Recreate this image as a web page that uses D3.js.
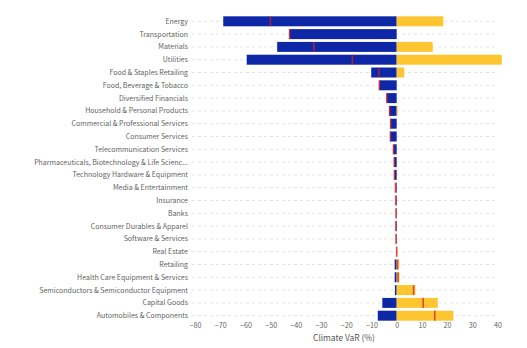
<!DOCTYPE html>
<html>
<head>
<meta charset="utf-8">
<script src="https://cdn.jsdelivr.net/npm/d3@7"></script>
<style>
  body { margin: 0; background: #fff; }
  svg { font-family: "Noto Sans CJK KR", "Noto Sans", sans-serif; }
</style>
</head>
<body>
<script>
const w = 527;
const h = 348;

const sectors = [
  "Energy", "Transportation", "Materials", "Utilities",
  "Food & Staples Retailing", "Food, Beverage & Tobacco", "Diversified Financials",
  "Household & Personal Products", "Commercial & Professional Services", "Consumer Services",
  "Telecommunication Services", "Pharmaceuticals, Biotechnology & Life Scienc...",
  "Technology Hardware & Equipment", "Media & Entertainment", "Insurance", "Banks",
  "Consumer Durables & Apparel", "Software & Services", "Real Estate", "Retailing",
  "Health Care Equipment & Services", "Semiconductors & Semiconductor Equipment",
  "Capital Goods", "Automobiles & Components"
];

// downside (policy risk) and upside (technology opportunity), in %
const downside = [-68.8, -42.6, -47.4, -59.5, -10.1, -6.9, -4.0, -3.0, -2.5, -2.6,
  -1.3, -1.0, -0.9, -0.4, -0.3, -0.2, -0.3, -0.2, -0.1, -0.8, -0.8, -0.7, -5.7, -7.5];
const upside = [18.5, 0, 14.3, 41.7, 3.0, 0, 0, 0.4, 0, 0,
  0, 0, 0, 0, 0, 0, 0, 0, 0.2, 1.0, 1.1, 7.4, 16.3, 22.5];
// aggregated climate VaR
const netVaR = [-50.0, -42.4, -32.8, -17.5, -7.0, -6.8, -3.8, -2.7, -2.3, -2.4,
  -1.2, -0.9, -0.8, -0.4, -0.3, -0.2, -0.3, -0.2, 0.1, 0.4, 0.6, 6.8, 10.6, 15.2];

const xTicks = [-80, -70, -60, -50, -40, -30, -20, -10, 0, 10, 20, 30, 40];

const rows = sectors.map((s, i) => ({
  sector: s, down: downside[i], up: upside[i], net: netVaR[i]
}));

const svg = d3.select("body")
  .append("svg")
  .attr("width", w)
  .attr("height", h);

const x = d3.scaleLinear()
  .domain([-81.2, 40])
  .range([192, 497.5]);

const y = d3.scaleBand()
  .domain(sectors)
  .range([13.5, 323.5])
  .padding(0.22);

// dashed row guides
svg.append("g")
  .selectAll("line")
  .data(sectors)
  .enter()
  .append("line")
  .attr("x1", x.range()[0])
  .attr("x2", x.range()[1])
  .attr("y1", d => y(d) + y.bandwidth() / 2)
  .attr("y2", d => y(d) + y.bandwidth() / 2)
  .attr("stroke", "#e3e3e3")
  .attr("stroke-width", 1)
  .attr("stroke-dasharray", "3,3");

// negative part
svg.append("g")
  .selectAll("rect")
  .data(rows.filter(d => d.down < 0))
  .enter()
  .append("rect")
  .attr("x", d => x(d.down))
  .attr("y", d => y(d.sector))
  .attr("width", d => x(0) - x(d.down))
  .attr("height", y.bandwidth())
  .attr("fill", "#0d27a6");

// positive part
svg.append("g")
  .selectAll("rect")
  .data(rows.filter(d => d.up > 0))
  .enter()
  .append("rect")
  .attr("x", x(0))
  .attr("y", d => y(d.sector))
  .attr("width", d => x(d.up) - x(0))
  .attr("height", y.bandwidth())
  .attr("fill", "#fdc530");

// net marker
svg.append("g")
  .selectAll("rect")
  .data(rows)
  .enter()
  .append("rect")
  .attr("x", d => x(d.net) - 1)
  .attr("y", d => y(d.sector))
  .attr("width", 1.6)
  .attr("height", y.bandwidth())
  .attr("fill", "#d8201e")
  .attr("opacity", 0.75);

// category labels
svg.append("g")
  .selectAll("text")
  .data(sectors)
  .enter()
  .append("text")
  .attr("x", 188)
  .attr("y", d => y(d) + y.bandwidth() / 2)
  .attr("dy", "0.35em")
  .attr("text-anchor", "end")
  .attr("font-size", "7px")
  .attr("fill", "#5f5f5f")
  .text(d => d);

// x axis
const xAxis = d3.axisBottom(x)
  .tickValues(xTicks)
  .tickSize(0)
  .tickPadding(0);

const gx = svg.append("g")
  .attr("transform", "translate(0, 323)")
  .call(xAxis);
gx.select(".domain").remove();
gx.selectAll("text")
  .attr("font-family", "\"Noto Sans CJK KR\", \"Noto Sans\", sans-serif")
  .attr("font-size", "7.2px")
  .attr("fill", "#666");

svg.append("text")
  .attr("x", 344)
  .attr("y", 341)
  .attr("text-anchor", "middle")
  .attr("font-size", "8.4px")
  .attr("fill", "#555")
  .text("Climate VaR (%)");
</script>
</body>
</html>
